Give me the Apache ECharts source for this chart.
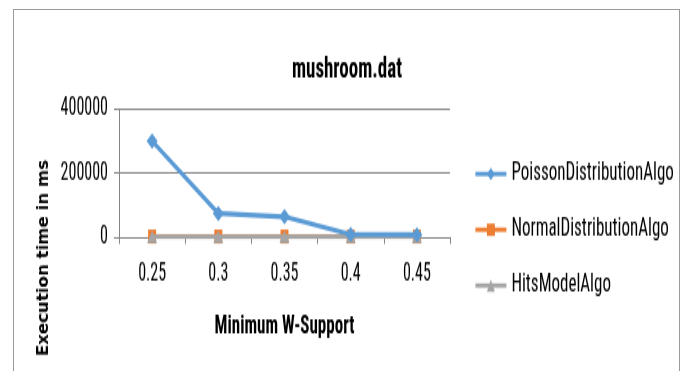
<!DOCTYPE html>
<html>
<head>
<meta charset="utf-8">
<script src="https://cdn.jsdelivr.net/npm/echarts@6/dist/echarts.min.js"></script>
<style>
  html, body { margin: 0; padding: 0; background: #fff; overflow: hidden; }
  #wrap { position: relative; width: 686px; height: 371px; overflow: hidden; background: #fff; }
  /* the chart is laid out in a short box and stretched to full height,
     which gives its text the tall, condensed look of the original */
  #chart { position: absolute; left: 0; top: 0; width: 686px; height: 239.35px;
           transform: scaleY(1.55); transform-origin: 0 0; }
  #frame { position: absolute; left: 13px; top: 9px; width: 667px; height: 400px;
           border: 1px solid #9a9a9a; box-sizing: border-box; pointer-events: none; }
</style>
</head>
<body>
<div id="wrap">
  <div id="chart"></div>
  <div id="frame"></div>
</div>
<script>
// Minimum W-Support thresholds
const supports = ['0.25', '0.3', '0.35', '0.4', '0.45'];
// Execution time (ms) per algorithm
const poissonTimes = [300000, 74000, 63500, 8000, 7000];
const normalTimes = [1500, 1500, 1500, 1500, 1500];
const hitsTimes = [1000, 1000, 1000, 1000, 1000];
// Value axis ticks
const yTicks = [0, 200000, 400000];

const narrow = "'Roboto Condensed', 'Carlito', sans-serif";
const S = 1.55; // vertical stretch applied to the chart box

const chart = echarts.init(document.getElementById('chart'));
chart.setOption({
  animation: false,
  backgroundColor: 'transparent',
  title: {
    text: 'mushroom.dat',
    left: 347, top: 55 / S, textAlign: 'center', padding: 0,
    textStyle: { fontFamily: narrow, fontSize: 19, fontWeight: 'bold', color: '#000' }
  },
  graphic: [
    { type: 'text', x: 44, y: 258 / S, rotation: Math.PI / 2, scaleX: 0.715,
      style: { text: 'Execution time in ms', fontFamily: "'DejaVu Sans', sans-serif",
        fontSize: 15, fontWeight: 'bold', fill: '#000', align: 'center', verticalAlign: 'middle' } }
  ],
  grid: { left: 119, top: 109 / S, width: 331, height: 128 / S },
  legend: {
    orient: 'vertical', left: 469, top: 153 / S, itemGap: 19, itemWidth: 31, itemHeight: 10,
    textStyle: { fontFamily: narrow, fontSize: 17, color: '#000' },
    lineStyle: { width: 2.8 },
    data: ['PoissonDistributionAlgo', 'NormalDistributionAlgo', 'HitsModelAlgo']
  },
  xAxis: {
    type: 'category', data: supports, boundaryGap: true,
    name: 'Minimum W-Support', nameLocation: 'middle', nameGap: 49,
    nameTextStyle: { fontFamily: narrow, fontSize: 17, fontWeight: 'bold', color: '#000' },
    axisLine: { lineStyle: { color: '#868686', width: 1 } },
    axisTick: { show: true, length: 4.5, lineStyle: { color: '#868686' } },
    axisLabel: { margin: 16, fontFamily: narrow, fontSize: 16, color: '#000' }
  },
  yAxis: {
    type: 'value', min: 0, max: 400000, interval: 200000,
    axisLine: { show: true, lineStyle: { color: '#868686' } },
    axisTick: { show: true, length: 5, lineStyle: { color: '#868686' } },
    axisLabel: { margin: 11, fontFamily: narrow, fontSize: 16, color: '#000',
      formatter: v => (yTicks.indexOf(v) >= 0 ? String(v) : '') },
    splitLine: { lineStyle: { color: '#868686' } }
  },
  series: [
    { name: 'PoissonDistributionAlgo', type: 'line', data: poissonTimes,
      symbol: 'diamond', symbolSize: [11, 10], color: '#5b9bd5',
      lineStyle: { width: 3.2 }, z: 4 },
    { name: 'NormalDistributionAlgo', type: 'line', data: normalTimes,
      symbol: 'rect', symbolSize: [8, 9], color: '#ed7d31',
      lineStyle: { width: 2.6 }, z: 2 },
    { name: 'HitsModelAlgo', type: 'line', data: hitsTimes,
      symbol: 'triangle', symbolSize: [10, 8], color: '#a5a5a5',
      lineStyle: { width: 3 }, z: 3 }
  ]
});
</script>
</body>
</html>
